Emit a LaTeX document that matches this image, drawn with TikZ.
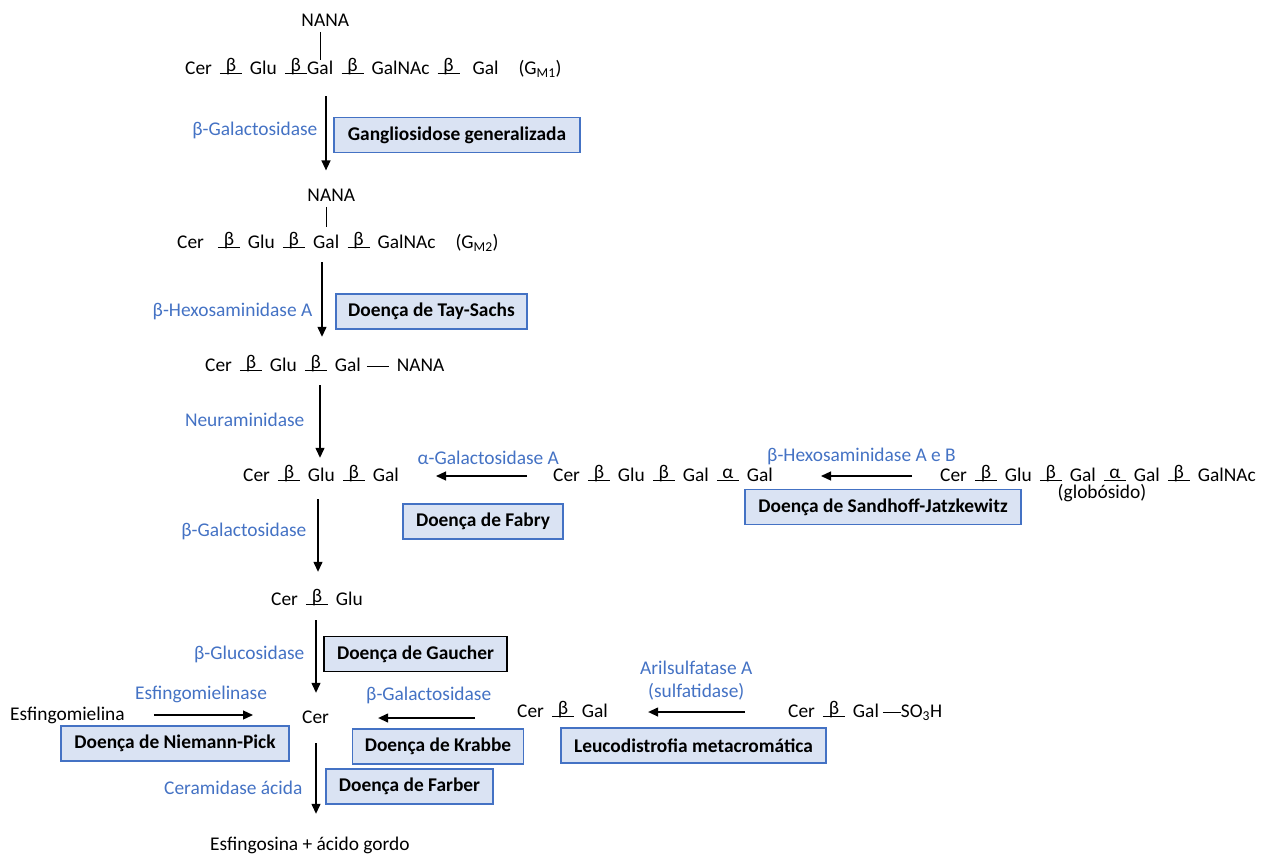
\documentclass[tikz,border=0pt]{standalone}
\usepackage{fontspec}
\setmainfont{Carlito}
\usetikzlibrary{positioning,arrows.meta}
\definecolor{enzblue}{RGB}{68,114,196}
\definecolor{boxfill}{RGB}{218,227,243}
\newcommand{\lk}[1]{\hspace{8pt}\rlap{\rule{22pt}{1pt}}\makebox[22pt]{\raisebox{3pt}{#1}}\hspace{8pt}}
\newcommand{\bond}[1]{\raisebox{4pt}{\rule{#1}{1pt}}}

\begin{document}
\begin{tikzpicture}[x=1pt, y=-1pt,
  font=\fontsize{19.4pt}{23pt}\selectfont,
  mol/.style={inner sep=0pt, text height=14pt, text depth=4pt},
  enz/.style={mol, text=enzblue},
  disease/.style={draw=enzblue, line width=1.2pt, fill=boxfill,
    font=\fontsize{19.4pt}{23pt}\selectfont\bfseries,
    minimum height=35pt, inner xsep=12pt},
  arr/.style={-{Triangle[length=10pt,width=9pt]}, line width=1.3pt}]
  \useasboundingbox (0,0) rectangle (1275,857);

  \node (g1a) [mol, anchor=base west] at (185,74) {Cer\lk{β}Glu\lk{β}};
  \node (g1gal) [mol, base right=0pt of g1a] {Gal};
  \node (g1b) [mol, base right=0pt of g1gal] {\lk{β}GalNAc\lk{β}\hspace{5pt}Gal\hspace{20pt}(G\textsubscript{M1})};
  \node (n1) [mol, above=29pt of g1gal, xshift=5pt] {NANA};
  \draw[line width=0.8pt, shorten <=1pt] (g1gal.north |- n1.south) -- (g1gal.north);

  \node (g2a) [mol, anchor=base west] at (177,248) {Cer\hspace{6pt}\lk{β}Glu\lk{β}\hspace{6pt}};
  \node (g2gal) [mol, base right=0pt of g2a] {Gal};
  \node (g2b) [mol, base right=0pt of g2gal] {\lk{β}GalNAc\hspace{20pt}(G\textsubscript{M2})};
  \node (n2) [mol, above=28pt of g2gal, xshift=5pt] {NANA};
  \draw[line width=0.8pt, shorten <=1pt, shorten >=7pt] (g2gal.north |- n2.south) -- (g2gal.north);

  \node (r3) [mol, anchor=base west] at (205,371) {Cer\lk{β}Glu\lk{β}Gal\hspace{6pt}\bond{22pt}\hspace{8pt}NANA};
  \node (lac) [mol, anchor=base west] at (243,481) {Cer\lk{β}Glu\lk{β}Gal};
  \node (gb3) [mol, anchor=base west] at (553,481) {Cer\lk{β}Glu\lk{β}Gal\lk{α}Gal};
  \node (glob) [mol, anchor=base west] at (940,481) {Cer\lk{β}Glu\lk{β}Gal\lk{α}Gal\lk{β}GalNAc};
  \node (globn) [mol, anchor=base] at (1102,498) {(globósido)};
  \node (r5) [mol, anchor=base west] at (271,605) {Cer\lk{β}Glu};
  \node (cer) [mol, anchor=base west] at (302,723) {Cer};
  \node (esm) [mol, anchor=base west] at (10,720) {Esfingomielina};
  \node (galcer) [mol, anchor=base west] at (517,717) {Cer\lk{β}Gal};
  \node (sulf) [mol, anchor=base west] at (788,717) {Cer\lk{β}Gal\hspace{4pt}\bond{18pt}SO\textsubscript{3}H};
  \node (fin) [mol, anchor=base west] at (210,850) {Esfingosina + ácido gordo};

  \coordinate (c1) at (326,0);
  \coordinate (c2) at (322,0);
  \coordinate (c3) at (320,0);
  \coordinate (c4) at (318,0);
  \coordinate (c5) at (316,0);
  \coordinate (c6) at (316,0);
  \draw[arr, shorten <=18pt, shorten >=17pt] (g1gal.south -| c1) -- node[enz, left=8pt, pos=0.48] {β-Galactosidase} (n2.north -| c1);
  \draw[arr, shorten <=10pt, shorten >=20pt] (g2gal.south -| c2) -- node[enz, left=9pt, pos=0.57] {β-Hexosaminidase A} (r3.north -| c2);
  \draw[arr, shorten <=10pt, shorten >=9pt] (r3.south -| c3) -- node[enz, left=15pt, pos=0.5] {Neuraminidase} (lac.north -| c3);
  \draw[arr, shorten <=14pt, shorten >=19pt] (lac.south -| c4) -- node[enz, left=11pt, pos=0.44] {β-Galactosidase} (r5.north -| c4);
  \draw[arr, shorten <=11pt, shorten >=16pt] (r5.south -| c5) -- node[enz, left=11pt, pos=0.45] {β-Glucosidase} (cer.north -| c5);
  \draw[arr, shorten <=16pt, shorten >=22pt] (cer.south -| c6) -- node[enz, left=13pt, pos=0.57] {Ceramidase ácida} (fin.north -| c6);

  \draw[arr, shorten <=26pt, shorten >=37pt] (gb3.west) -- node[enz, above=7pt, pos=0.42] {α-Galactosidase A} (lac.east);
  \draw[arr, shorten <=28pt, shorten >=48pt] (glob.west) -- node[enz, above=10pt, pos=0.47] {β-Hexosaminidase A e B} (gb3.east);
  \draw[arr, shorten <=29pt, shorten >=49pt] (esm.east) -- node[enz, above=11pt, pos=0.43] {Esfingomielinase} (esm.east -| cer.west);
  \draw[arr, shorten <=42pt, shorten >=49pt] (galcer.west |- cer.east) -- node[enz, above=13pt, pos=0.47] {β-Galactosidase} (cer.east);
  \draw[arr, shorten <=43pt, shorten >=40pt] (sulf.west) -- node[enz, above=10pt, pos=0.51, align=center] {Arilsulfatase A\\(sulfatidase)} (galcer.east);

  \node (gang) [disease, minimum width=246pt] at (457,135) {Gangliosidose generalizada};
  \node (tay) [disease, minimum width=191pt] at (431.5,311.5) {Doença de Tay-Sachs};
  \node (fabry) [disease, minimum width=160pt] at (483,521.5) {Doença de Fabry};
  \node (sandhoff) [disease, minimum width=276pt] at (883,507) {Doença de Sandhoff-Jatzkewitz};
  \node (gaucher) [disease, draw=black, minimum width=183pt] at (415.5,654) {Doença de Gaucher};
  \node (niemann) [disease, minimum width=228pt] at (175,743.5) {Doença de Niemann-Pick};
  \node (krabbe) [disease, minimum width=170pt] at (438,746.5) {Doença de Krabbe};
  \node (leuco) [disease, minimum width=265pt] at (693.5,745.5) {Leucodistrofia metacromática};
  \node (farber) [disease, minimum width=167pt] at (409.5,786.5) {Doença de Farber};
\end{tikzpicture}
\end{document}
